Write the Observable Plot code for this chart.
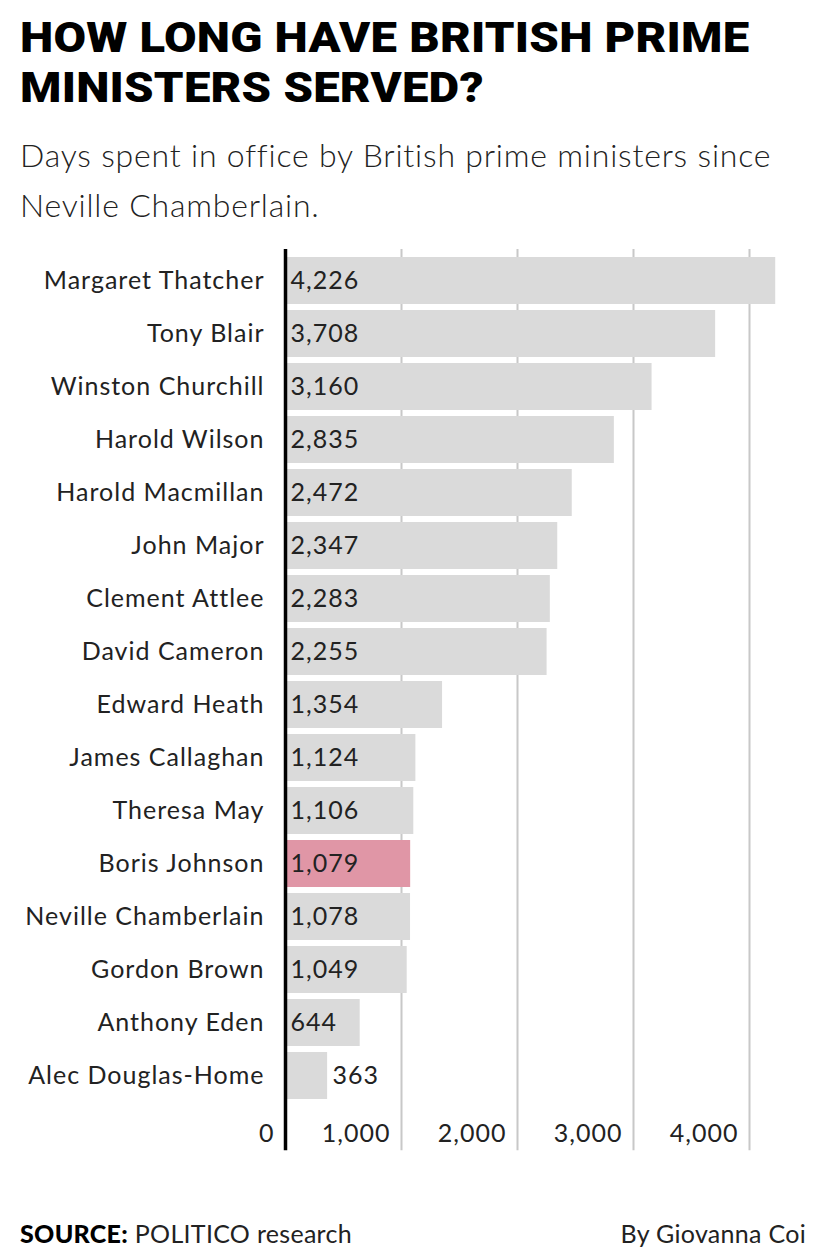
<!DOCTYPE html>
<html>
<head>
<meta charset="utf-8">
<script src="https://cdn.jsdelivr.net/npm/d3@7"></script>
<script src="https://cdn.jsdelivr.net/npm/@observablehq/plot@0.6"></script>
<style>
  html, body { margin: 0; padding: 0; background: #fff; }
  body { width: 828px; height: 1254px; position: relative; overflow: hidden; font-family: Lato, "Open Sans", sans-serif; }
  #head { height: 240px; position: relative; }
  .tl { position: absolute; left: 20px; font-family: Roboto, sans-serif; font-weight: 900; font-size: 42px; line-height: 50px; height: 50px; color: #000; letter-spacing: 0.2px; white-space: nowrap; transform: scaleX(1.125); transform-origin: 0 50%; }
  #t1 { top: 13.3px; }
  #t2 { top: 63.3px; }
  #sub { position: absolute; left: 20px; top: 130px; font-family: Lato, sans-serif; font-weight: 300; font-size: 32px; line-height: 50px; color: #222; letter-spacing: 0.8px; white-space: nowrap; }
  #chart { position: absolute; top: 240px; left: 0; }
  #foot { position: absolute; top: 1218px; left: 20px; right: 22px; font-size: 25px; letter-spacing: 0.3px; color: #222; font-family: Lato, sans-serif; font-weight: 400; }
  #foot b { font-weight: 900; color: #000; }
  #foot .r { position: absolute; right: 0; top: 0; }
  #chart text { letter-spacing: 1px; }
</style>
</head>
<body>
<div id="head">
  <div class="tl" id="t1">HOW LONG HAVE BRITISH PRIME</div>
  <div class="tl" id="t2">MINISTERS SERVED?</div>
  <div id="sub">Days spent in office by British prime ministers since<br>Neville Chamberlain.</div>
</div>
<div id="chart"></div>
<div id="foot"><span><b>SOURCE:</b> POLITICO research</span><span class="r">By Giovanna Coi</span></div>
<script>
const names = ["Margaret Thatcher","Tony Blair","Winston Churchill","Harold Wilson","Harold Macmillan","John Major","Clement Attlee","David Cameron","Edward Heath","James Callaghan","Theresa May","Boris Johnson","Neville Chamberlain","Gordon Brown","Anthony Eden","Alec Douglas-Home"];
const days = [4226,3708,3160,2835,2472,2347,2283,2255,1354,1124,1106,1079,1078,1049,644,363];
const highlight = "Boris Johnson";
const xTicks = [0,1000,2000,3000,4000];

const data = names.map((n, i) => ({name: n, days: days[i]}));
const fmt = d3.format(",");

const chart = Plot.plot({
  width: 828,
  height: 920,
  marginLeft: 285,
  marginRight: 21,
  marginTop: 7.6,
  marginBottom: 52.7,
  style: {fontFamily: "Lato, sans-serif", fontSize: "25px", color: "#222", background: "transparent"},
  x: {domain: [0, 4500]},
  y: {domain: names, padding: 0.12},
  marks: [
    Plot.gridX(xTicks.slice(1), {stroke: "#c8c8c8", strokeOpacity: 1, strokeWidth: 2, insetTop: 1.5, insetBottom: -43}),
    Plot.barX(data, {x: "days", y: "name", fill: d => d.name === highlight ? "#e096a6" : "#dadada"}),
    Plot.ruleX([0], {stroke: "#000", strokeWidth: 3.5, insetTop: 1.5, insetBottom: -43}),
    Plot.text(data, {
      x: d => d.days < 400 ? d.days : 0,
      y: "name",
      text: d => fmt(d.days),
      textAnchor: "start",
      dx: 5,
      fill: "#222",
      fontSize: 25
    }),
    Plot.axisY({tickSize: 0, tickPadding: 21, fontSize: 25, label: null, fill: "#222"}),
    Plot.axisX({ticks: xTicks, tickSize: 0, tickPadding: 16, textAnchor: "end", dx: -11, tickFormat: fmt, fontSize: 25, label: null, fill: "#222"})
  ]
});
document.getElementById("chart").appendChild(chart);
</script>
</body>
</html>
